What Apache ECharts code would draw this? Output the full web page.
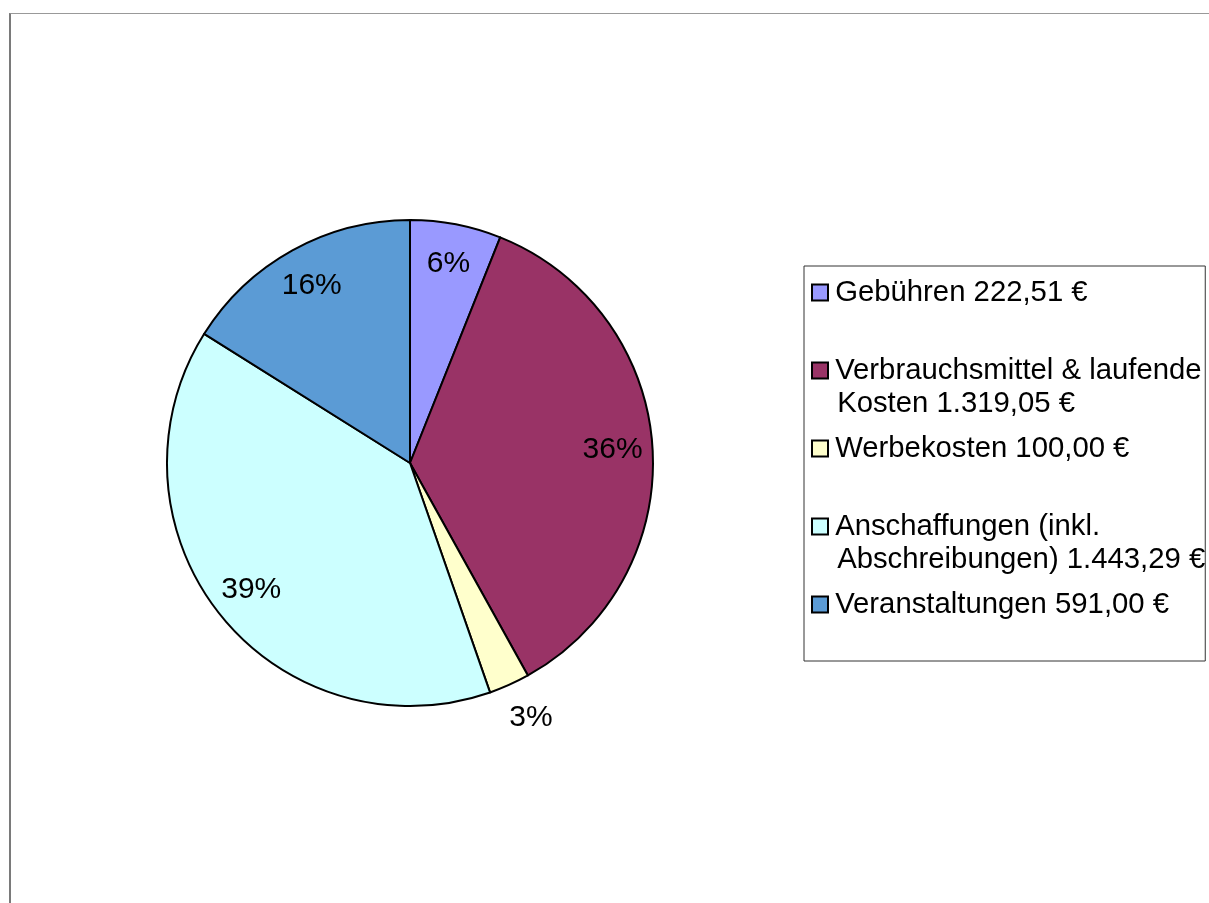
<!doctype html>
<html lang="de">
<head>
<meta charset="UTF-8">
<title>Kosten</title>
<script src="https://cdn.jsdelivr.net/npm/echarts@6/dist/echarts.min.js"></script>
<style>
    html, body { margin: 0; padding: 0; background: #fff; overflow: hidden; }
    #frame { position: absolute; left: 9px; top: 13px; width: 1400px; height: 1000px;
             border-top: 1px solid #999; border-left: 2px solid #7a7a7a; }
    #main { position: absolute; left: 0; top: 0; width: 1209px; height: 903px; }
</style>
</head>
<body>
<div id="frame"></div>
<div id="main"></div>
<script>
// Daten
var categories = ['Gebühren', 'Verbrauchsmittel & laufende\nKosten', 'Werbekosten', 'Anschaffungen (inkl.\nAbschreibungen)', 'Veranstaltungen'];
var values = [222.51, 1319.05, 100.00, 1443.29, 591.00];
var colors = ['#9999ff', '#993366', '#ffffcc', '#ccffff', '#5b9bd5'];

var fontFam = 'Arial, "Liberation Sans", sans-serif';

function euro(v) {
    var parts = v.toFixed(2).split('.');
    var ganz = parts[0].replace(/\B(?=(\d{3})+(?!\d))/g, '.');
    return ganz + ',' + parts[1] + ' €';
}

function pct(p) {
    return Math.round(p.percent) + '%';
}

// Hauptkreis: nur das kleine Segment bekommt ein Label aussen
var pieData = categories.map(function (name, i) {
    return {
        name: name,
        value: values[i],
        itemStyle: { color: colors[i] },
        label: { show: values[i] === 100.00 }
    };
});
// Overlay nur fuer die Innen-Labels
var labelData = categories.map(function (name, i) {
    return {
        name: name,
        value: values[i],
        label: { show: values[i] !== 100.00 }
    };
});

var rich = { p: { width: 16, height: 16 } };
colors.forEach(function (c, i) {
    rich['b' + i] = { width: 14, height: 14, backgroundColor: c, borderColor: '#000', borderWidth: 2 };
});

var myChart = echarts.init(document.getElementById('main'));

var option = {
    animation: false,
    legend: {
        orient: 'vertical',
        left: 804,
        top: 266,
        padding: [10, 0, 7, 4],
        itemGap: 12,
        itemWidth: 0,
        itemHeight: 14,
        icon: 'none',
        borderColor: '#333',
        borderWidth: 1,
        data: categories,
        formatter: function (name) {
            var i = categories.indexOf(name);
            var lines = (name + ' ' + euro(values[i])).split('\n');
            var out = lines.map(function (l, k) {
                return (k === 0 ? '{b' + i + '|}' : '{p|}') + ' ' + l;
            });
            if (out.length < 2) out.push(' ');
            return out.join('\n');
        },
        textStyle: {
            fontFamily: fontFam,
            fontSize: 29.3,
            lineHeight: 33,
            color: '#000',
            rich: rich
        }
    },
    series: [
        {
            type: 'pie',
            center: [410, 463],
            radius: [0, 243],
            startAngle: 90,
            clockwise: true,
            data: pieData,
            itemStyle: { borderColor: '#000', borderWidth: 2 },
            label: {
                position: 'outside',
                formatter: pct,
                fontFamily: fontFam,
                fontSize: 30,
                color: '#000'
            },
            labelLine: { show: false, length: 22, length2: 28 },
            labelLayout: { dx: -42, dy: 13 },
            emphasis: { disabled: true }
        },
        {
            type: 'pie',
            center: [410, 463],
            radius: [0, 400],
            startAngle: 90,
            clockwise: true,
            silent: true,
            data: labelData,
            itemStyle: { color: 'rgba(0,0,0,0)' },
            label: {
                position: 'inside',
                formatter: pct,
                fontFamily: fontFam,
                fontSize: 30,
                color: '#000'
            },
            labelLine: { show: false },
            emphasis: { disabled: true }
        }
    ]
};

myChart.setOption(option);
</script>
</body>
</html>
